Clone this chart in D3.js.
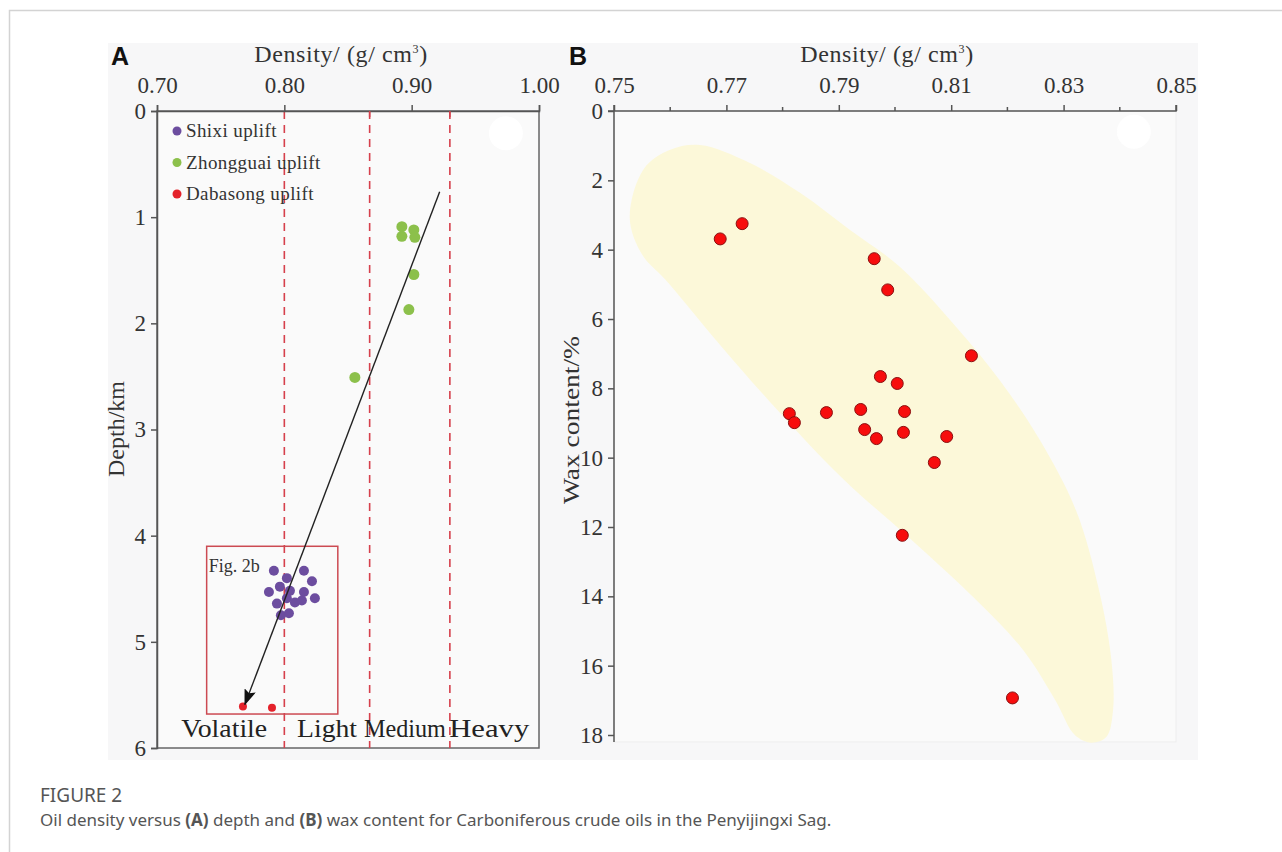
<!DOCTYPE html>
<html>
<head>
<meta charset="utf-8">
<script src="https://cdn.jsdelivr.net/npm/d3@7"></script>
<style>
  body { margin: 0; background: #fff; }
  svg text { font-family: "Liberation Serif", "Times New Roman", serif; fill: #333; }
</style>
</head>
<body>
<svg id="fig" width="1282" height="852"></svg>
<script>
// ---- data (panel A) ----
const shixi = [
  [0.7918, 4.33], [0.8154, 4.33], [0.8020, 4.40], [0.8217, 4.43], [0.7879, 4.53],
  [0.7965, 4.48], [0.8044, 4.52], [0.8154, 4.53], [0.8240, 4.59], [0.7942, 4.64],
  [0.8020, 4.59], [0.8083, 4.63], [0.8138, 4.61], [0.7973, 4.75], [0.8036, 4.73]
];
const zhongguai = [
  [0.8923, 1.09], [0.9017, 1.12], [0.8923, 1.18], [0.9025, 1.19],
  [0.9017, 1.54], [0.8978, 1.87], [0.8554, 2.51]
];
const dabasong = [[0.7675, 5.61], [0.7903, 5.62]];
const trendLine = [[0.922, 0.76], [0.769, 5.59]];
const classBounds = [0.80, 0.867, 0.93];
const classLabels = ['Volatile', 'Light', 'Medium', 'Heavy'];
const classLabelX = [0.719, 0.810, 0.8625, 0.9295];
const classLabelW = [86, 60, 82, 80];
const figBox = [[0.739, 4.10], [0.842, 5.68]];
const legendNames = ['Shixi uplift', 'Zhongguai uplift', 'Dabasong uplift'];
const xTicksA = [0.70, 0.80, 0.90, 1.00];
const yTicksA = [0, 1, 2, 3, 4, 5, 6];

// ---- data (panel B) ----
const waxPoints = [
  [0.7728, 3.25], [0.7689, 3.69], [0.7963, 4.26], [0.7987, 5.16], [0.8136, 7.06],
  [0.7974, 7.66], [0.8004, 7.86], [0.7812, 8.73], [0.7821, 8.99], [0.7878, 8.70],
  [0.7939, 8.61], [0.8017, 8.67], [0.7946, 9.19], [0.7967, 9.45], [0.8015, 9.27],
  [0.8092, 9.39], [0.8070, 10.14], [0.8013, 12.24], [0.8209, 16.93]
];
const waxBand = [
  [0.7528, 3.08], [0.7553, 1.67], [0.7600, 1.12], [0.7653, 0.98], [0.7742, 1.50],
  [0.7831, 2.36], [0.7920, 3.43], [0.8009, 4.50], [0.8110, 6.25], [0.8187, 7.78],
  [0.8258, 9.50], [0.8322, 11.52], [0.8363, 13.82], [0.8385, 15.84], [0.8388, 17.28],
  [0.8376, 18.06], [0.8349, 18.22], [0.8320, 18.00], [0.8285, 16.99], [0.8228, 15.55],
  [0.8145, 14.11], [0.8030, 12.38], [0.7905, 10.57], [0.7778, 8.40], [0.7685, 6.68],
  [0.7630, 5.60], [0.7590, 4.84], [0.7550, 4.14]
];
const xTicksB = [0.75, 0.77, 0.79, 0.81, 0.83, 0.85];
const xMinorB = [0.76, 0.78, 0.80, 0.82, 0.84];
const yTicksB = [0, 2, 4, 6, 8, 10, 12, 14, 16, 18];

const colors = { shixi: '#6c4d9f', zhongguai: '#8cc04b', dabasong: '#e4222b' };
const serif = '"Liberation Serif", "Times New Roman", serif';

const svg = d3.select('#fig');

// page frame
svg.append('path').attr('d', 'M9.5,852 L9.5,10.5 L1282,10.5')
  .attr('fill', 'none').attr('stroke', '#d3d3d3').attr('stroke-width', 1.5);
// figure background
svg.append('rect').attr('x', 108).attr('y', 43).attr('width', 1090).attr('height', 717)
  .attr('fill', '#f7f7f8');

function styleAxis(g) {
  g.attr('font-family', serif).attr('font-size', 23);
  g.select('.domain').attr('stroke', '#555').attr('stroke-width', 1.5);
  g.selectAll('.tick line').attr('stroke', '#555').attr('stroke-width', 1.5);
  g.selectAll('.tick text').attr('fill', '#333').style('font-size', '23px')
    .style('font-family', serif);
}

function densityTitle(g, cx) {
  const t = g.append('text').attr('x', cx).attr('y', 62)
    .attr('text-anchor', 'middle').style('font-size', '24px').style('letter-spacing', '0.6px');
  t.append('tspan').text('Density/ (g/ cm');
  t.append('tspan').attr('dy', -9).style('font-size', '12px').text('3');
  t.append('tspan').attr('dy', 9).text(')');
}

// ================= Panel A =================
const xA = d3.scaleLinear().domain([0.70, 1.00]).range([157, 539]);
const yA = d3.scaleLinear().domain([0, 6]).range([111, 748]);
const gA = svg.append('g');

// frame
gA.append('rect').attr('x', xA(0.70)).attr('y', yA(0))
  .attr('width', xA(1.00) - xA(0.70)).attr('height', yA(6) - yA(0))
  .attr('fill', '#fafafa').attr('stroke', '#666').attr('stroke-width', 1.5);

// class boundaries
gA.selectAll('line.bound').data(classBounds).enter().append('line')
  .attr('class', 'bound')
  .attr('x1', d => xA(d)).attr('x2', d => xA(d))
  .attr('y1', yA(0)).attr('y2', yA(6))
  .attr('stroke', '#d6404c').attr('stroke-width', 1.6).attr('stroke-dasharray', '8,6');

// white blob
gA.append('circle').attr('cx', xA(0.974)).attr('cy', yA(0.21)).attr('r', 17).attr('fill', '#fff');

// Fig. 2b box
gA.append('rect')
  .attr('x', xA(figBox[0][0])).attr('y', yA(figBox[0][1]))
  .attr('width', xA(figBox[1][0]) - xA(figBox[0][0]))
  .attr('height', yA(figBox[1][1]) - yA(figBox[0][1]))
  .attr('fill', 'none').attr('stroke', '#cc4a52').attr('stroke-width', 1.5);
gA.append('text').attr('x', xA(figBox[0][0]) + 2).attr('y', yA(figBox[0][1]) + 26)
  .style('font-size', '18px').text('Fig. 2b');

// points
gA.selectAll('circle.sx').data(shixi).enter().append('circle')
  .attr('class', 'sx').attr('cx', d => xA(d[0])).attr('cy', d => yA(d[1]))
  .attr('r', 5).attr('fill', colors.shixi);
gA.selectAll('circle.zg').data(zhongguai).enter().append('circle')
  .attr('class', 'zg').attr('cx', d => xA(d[0])).attr('cy', d => yA(d[1]))
  .attr('r', 5.5).attr('fill', colors.zhongguai);
gA.selectAll('circle.db').data(dabasong).enter().append('circle')
  .attr('class', 'db').attr('cx', d => xA(d[0])).attr('cy', d => yA(d[1]))
  .attr('r', 4).attr('fill', colors.dabasong);

// trend arrow
svg.append('defs').append('marker')
  .attr('id', 'arrow').attr('viewBox', '0 0 16 12')
  .attr('refX', 15).attr('refY', 6)
  .attr('markerWidth', 16).attr('markerHeight', 12)
  .attr('markerUnits', 'userSpaceOnUse').attr('orient', 'auto')
  .append('path').attr('d', 'M0,0 L16,6 L0,12 L3,6 z').attr('fill', '#111');
gA.append('line')
  .attr('x1', xA(trendLine[0][0])).attr('y1', yA(trendLine[0][1]))
  .attr('x2', xA(trendLine[1][0])).attr('y2', yA(trendLine[1][1]))
  .attr('stroke', '#222').attr('stroke-width', 1.4).attr('marker-end', 'url(#arrow)');

// legend
const legA = gA.selectAll('g.leg').data(legendNames).enter().append('g')
  .attr('transform', (d, i) => `translate(177,${131 + i * 31.5})`);
legA.append('circle').attr('r', 4.5)
  .attr('fill', (d, i) => [colors.shixi, colors.zhongguai, colors.dabasong][i]);
legA.append('text').attr('x', 9).attr('y', 6).style('font-size', '19px')
  .style('letter-spacing', '0.4px').text(d => d);

// class labels
gA.selectAll('text.cls').data(classLabels).enter().append('text')
  .attr('x', (d, i) => xA(classLabelX[i])).attr('y', 737)
  .attr('textLength', (d, i) => classLabelW[i]).attr('lengthAdjust', 'spacingAndGlyphs')
  .style('font-size', '26px').style('fill', '#222').text(d => d);

// axes
const axTopA = gA.append('g').attr('transform', `translate(0,${yA(0)})`)
  .call(d3.axisTop(xA).tickValues(xTicksA).tickFormat(d3.format('.2f')).tickSize(6).tickPadding(12));
styleAxis(axTopA);
gA.selectAll('line.rt').data(classBounds.slice(1)).enter().append('line')
  .attr('x1', d => xA(d)).attr('x2', d => xA(d)).attr('y1', yA(0)).attr('y2', yA(0) + 6)
  .attr('stroke', '#d6404c').attr('stroke-width', 1.5);
const axLeftA = gA.append('g').attr('transform', `translate(${xA(0.70)},0)`)
  .call(d3.axisLeft(yA).tickValues(yTicksA).tickFormat(d3.format('d')).tickSize(6).tickPadding(5));
styleAxis(axLeftA);

// titles
densityTitle(gA, 341);
gA.append('text').attr('transform', 'translate(124,429) rotate(-90)')
  .attr('text-anchor', 'middle').style('font-size', '24px').text('Depth/km');
gA.append('text').attr('x', 111).attr('y', 65)
  .style('font-family', '"Liberation Sans", Arial, sans-serif').style('font-weight', 'bold')
  .style('font-size', '25px').style('fill', '#111').text('A');

// ================= Panel B =================
const xB = d3.scaleLinear().domain([0.75, 0.85]).range([614, 1176]);
const yB = d3.scaleLinear().domain([0, 18]).range([111, 735]);
const gB = svg.append('g');

gB.append('rect').attr('x', xB(0.75)).attr('y', yB(0))
  .attr('width', xB(0.85) - xB(0.75)).attr('height', yB(18.2) - yB(0))
  .attr('fill', '#fafafa').attr('stroke', '#eee').attr('stroke-width', 1);

gB.append('path').datum(waxBand)
  .attr('d', d3.line().x(d => xB(d[0])).y(d => yB(d[1])).curve(d3.curveCatmullRomClosed))
  .attr('fill', '#fcf8d9');

gB.append('circle').attr('cx', xB(0.8425)).attr('cy', yB(0.6)).attr('r', 17).attr('fill', '#fff');

gB.selectAll('circle.wp').data(waxPoints).enter().append('circle')
  .attr('class', 'wp').attr('cx', d => xB(d[0])).attr('cy', d => yB(d[1]))
  .attr('r', 6).attr('fill', '#f70d0d').attr('stroke', '#8a1010').attr('stroke-width', 1);

const axTopB = gB.append('g').attr('transform', `translate(0,${yB(0)})`)
  .call(d3.axisTop(xB).tickValues(xTicksB).tickFormat(d3.format('.2f')).tickSize(6).tickPadding(12));
styleAxis(axTopB);
axTopB.select('.domain').attr('d', `M${xB(0.75)},-6V0H${xB(0.85)}V-6`);
gB.selectAll('line.minor').data(xMinorB).enter().append('line')
  .attr('x1', d => xB(d)).attr('x2', d => xB(d)).attr('y1', yB(0)).attr('y2', yB(0) - 4)
  .attr('stroke', '#555').attr('stroke-width', 1.5);
const axLeftB = gB.append('g').attr('transform', `translate(${xB(0.75)},0)`)
  .call(d3.axisLeft(yB).tickValues(yTicksB).tickFormat(d3.format('d')).tickSize(6).tickPadding(5));
styleAxis(axLeftB);
axLeftB.select('.domain').attr('d', `M-6,${yB(0)}H0V${yB(18.2)}`);

densityTitle(gB, 887);
gB.append('text').attr('transform', 'translate(579,420) rotate(-90)')
  .attr('text-anchor', 'middle').attr('textLength', 168).attr('lengthAdjust', 'spacingAndGlyphs')
  .style('font-size', '24px').text('Wax content/%');
gB.append('text').attr('x', 569).attr('y', 65)
  .style('font-family', '"Liberation Sans", Arial, sans-serif').style('font-weight', 'bold')
  .style('font-size', '25px').style('fill', '#111').text('B');

// ================= caption =================
svg.append('text').attr('x', 40).attr('y', 802)
  .style('font-family', '"Noto Sans", sans-serif').style('font-size', '19px').style('fill', '#555')
  .text('FIGURE 2');
const cap = svg.append('text').attr('x', 40).attr('y', 826)
  .style('font-family', '"Noto Sans", sans-serif').style('font-size', '17px').style('fill', '#555');
cap.append('tspan').text('Oil density versus ');
cap.append('tspan').style('font-weight', 'bold').text('(A)');
cap.append('tspan').text(' depth and ');
cap.append('tspan').style('font-weight', 'bold').text('(B)');
cap.append('tspan').text(' wax content for Carboniferous crude oils in the Penyijingxi Sag.');
</script>
</body>
</html>
